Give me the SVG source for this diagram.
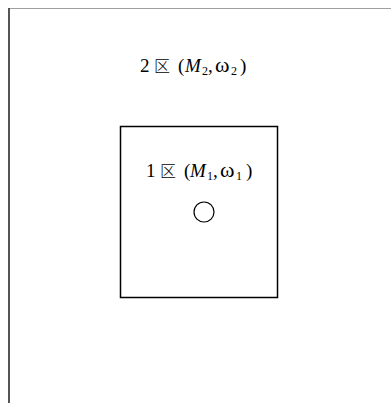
<svg xmlns="http://www.w3.org/2000/svg" width="391" height="403" viewBox="0 0 391 403">
<style>
.t{font-family:"Liberation Serif","Noto Sans CJK SC",serif;font-size:19px;fill:#000}
.c{font-family:"Noto Sans CJK SC",sans-serif;font-size:16px;font-weight:300}
.i{font-style:italic}
.s{font-size:12px}
.w{font-size:22px}
.box{fill:none;stroke:#000;stroke-width:1.5}
</style>
<rect width="391" height="403" fill="#fff"/>
<g id="frame">
<line x1="8" y1="8.5" x2="391" y2="8.5" stroke="#a0a0a0" stroke-width="1"/>
<line x1="9" y1="8" x2="9" y2="403" stroke="#555" stroke-width="2"/>
</g>
<g id="zone2">
<text class="t" y="72"><tspan x="140">2</tspan><tspan class="c" x="154">区</tspan><tspan x="178">(</tspan><tspan class="i" x="185">M</tspan><tspan class="s" x="202" dy="3">2</tspan><tspan x="208" dy="-3">,</tspan><tspan class="w" x="215">ω</tspan><tspan class="s" x="231" dy="3">2</tspan><tspan x="240" dy="-3">)</tspan></text>
</g>
<g id="zone1">
<rect class="box" x="120.5" y="126.5" width="157" height="171"/>
<text class="t" y="177"><tspan x="146">1</tspan><tspan class="c" x="160">区</tspan><tspan x="184">(</tspan><tspan class="i" x="190">M</tspan><tspan class="s" x="207" dy="3">1</tspan><tspan x="213" dy="-3">,</tspan><tspan class="w" x="220">ω</tspan><tspan class="s" x="236" dy="3">1</tspan><tspan x="246" dy="-3">)</tspan></text>
<circle cx="204" cy="212" r="10" fill="none" stroke="#000" stroke-width="1.2"/>
</g>
</svg>
